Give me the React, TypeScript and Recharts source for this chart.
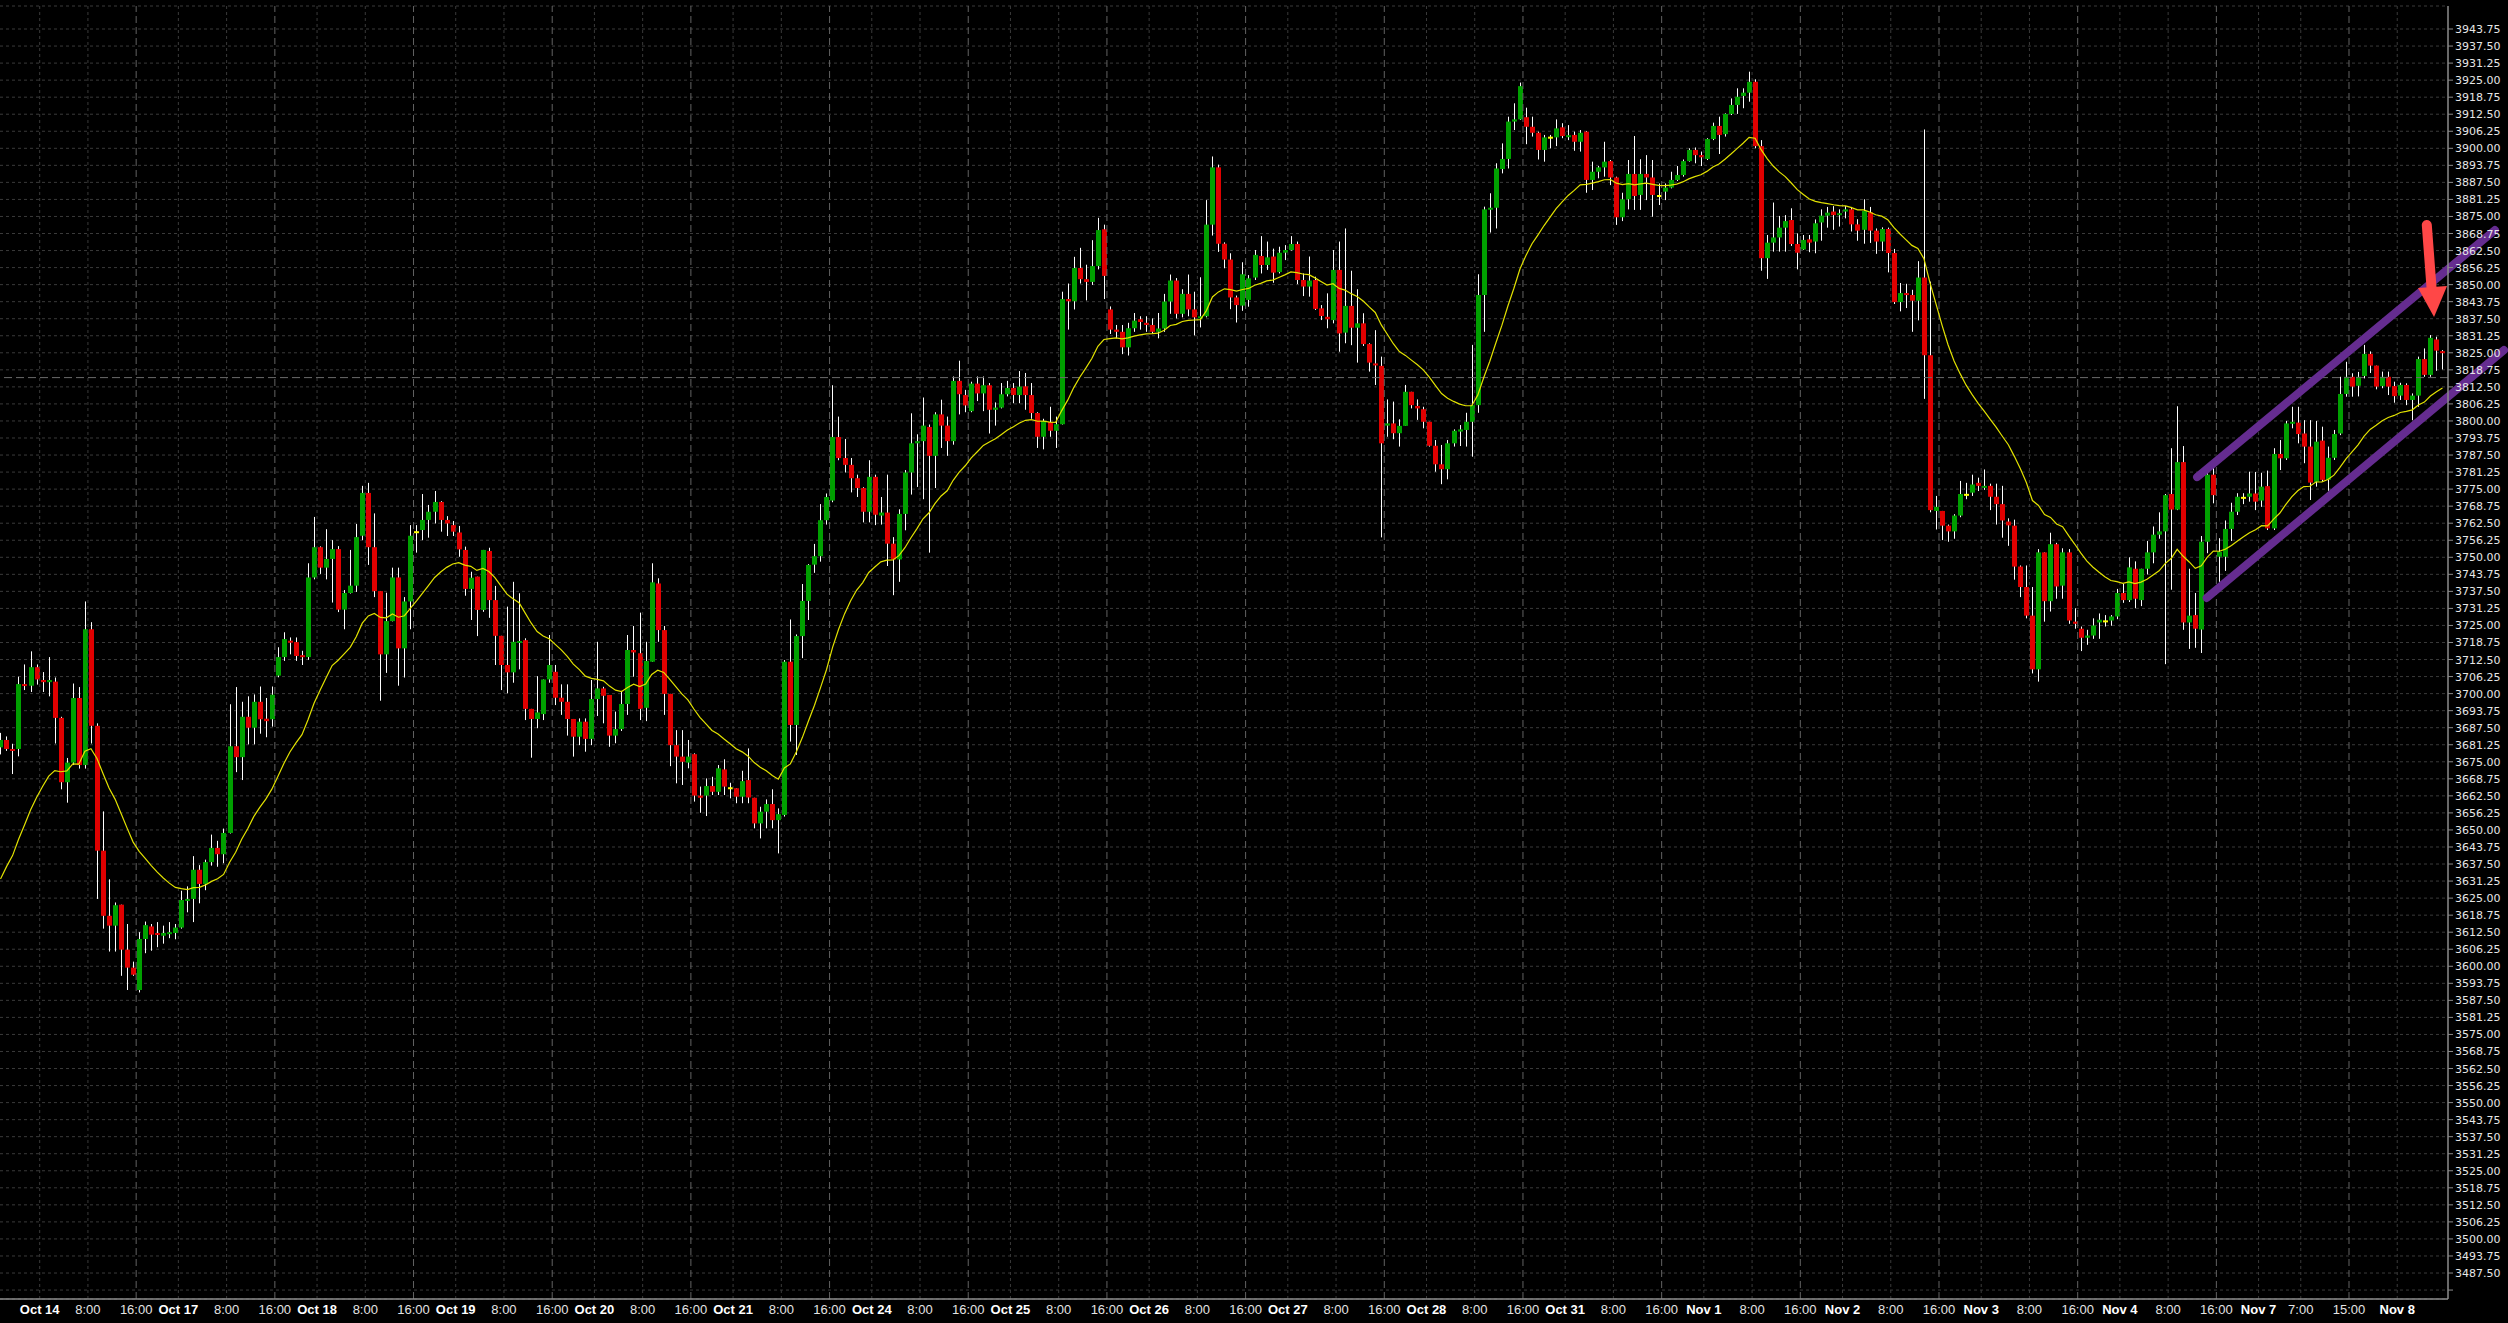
import React from "react";
import {
  ComposedChart, Bar, Line, Scatter, XAxis, YAxis, CartesianGrid, ReferenceLine,
} from "recharts";

// [open, high, low, close], hourly bars grouped by the session label they fall under
type Candle = [number, number, number, number];

const oct13: Candle[] = [
  [3680.3, 3685.6, 3677.7, 3683.0], [3683.0, 3684.3, 3679.0, 3679.7], [3679.7, 3681.6, 3670.5, 3679.0],
  [3679.7, 3706.2, 3677.0, 3703.5], [3703.5, 3710.7, 3701.3, 3702.9], [3702.9, 3715.5, 3700.6, 3709.7],
  [3709.7, 3710.7, 3703.3, 3705.2],
];
const oct14: Candle[] = [
  [3705.0, 3707.9, 3700.6, 3704.2], [3704.2, 3713.4, 3699.0, 3705.0], [3704.4, 3705.9, 3681.7, 3691.1],
  [3691.1, 3691.5, 3664.9, 3667.5], [3667.5, 3676.4, 3660.0, 3674.7], [3674.7, 3703.7, 3673.8, 3698.4],
  [3698.4, 3702.4, 3672.5, 3673.8], [3673.8, 3733.8, 3672.5, 3723.6], [3723.6, 3726.2, 3681.7, 3688.2],
  [3688.2, 3689.1, 3624.7, 3642.4], [3642.4, 3656.8, 3613.8, 3618.5], [3618.5, 3631.9, 3605.4, 3614.9],
  [3614.9, 3623.4, 3605.4, 3622.4], [3622.6, 3622.6, 3596.5, 3606.1], [3606.1, 3615.5, 3591.3, 3599.5],
  [3599.5, 3601.7, 3596.5, 3596.9], [3591.3, 3612.5, 3590.4, 3610.0], [3610.0, 3616.4, 3604.8, 3615.1],
  [3614.6, 3615.5, 3605.7, 3611.6], [3612.2, 3616.2, 3607.0, 3611.6], [3611.2, 3614.9, 3608.3, 3612.2],
  [3611.8, 3616.2, 3610.3, 3612.5], [3612.2, 3615.5, 3609.9, 3614.2],
];
const oct17: Candle[] = [
  [3614.2, 3627.7, 3613.8, 3624.3], [3624.2, 3629.3, 3619.8, 3624.7], [3624.7, 3640.4, 3616.2, 3635.4],
  [3635.4, 3637.1, 3623.1, 3630.2], [3630.2, 3639.1, 3627.9, 3638.2], [3638.2, 3648.3, 3636.9, 3643.4],
  [3643.4, 3646.0, 3636.5, 3641.1], [3641.1, 3650.5, 3637.8, 3648.9], [3648.9, 3696.1, 3648.7, 3680.7],
  [3680.7, 3702.4, 3671.2, 3676.7], [3676.7, 3697.0, 3668.3, 3691.5], [3691.5, 3699.0, 3681.4, 3687.5],
  [3687.5, 3699.7, 3681.4, 3697.0], [3697.0, 3702.6, 3685.3, 3690.6], [3690.8, 3698.4, 3684.0, 3689.9],
  [3690.6, 3702.6, 3687.9, 3699.6], [3706.6, 3717.0, 3706.0, 3713.4], [3713.4, 3722.5, 3712.0, 3720.0],
  [3719.4, 3720.6, 3714.4, 3718.9], [3718.9, 3720.6, 3712.0, 3713.8], [3714.1, 3715.7, 3710.5, 3713.4],
  [3713.4, 3747.8, 3712.4, 3742.6], [3742.6, 3764.8, 3741.9, 3753.7],
];
const oct18: Candle[] = [
  [3753.7, 3754.0, 3743.9, 3746.2], [3746.2, 3760.3, 3741.9, 3749.4], [3749.4, 3756.3, 3733.4, 3753.0],
  [3753.0, 3754.1, 3729.9, 3730.8], [3730.8, 3738.0, 3723.6, 3736.9], [3736.9, 3752.7, 3736.7, 3739.6],
  [3739.6, 3762.2, 3737.3, 3757.4], [3757.9, 3776.2, 3756.3, 3773.6], [3773.6, 3777.3, 3747.2, 3753.7],
  [3753.7, 3766.1, 3735.4, 3737.6], [3737.6, 3737.6, 3697.4, 3714.4], [3714.4, 3737.0, 3707.6, 3726.6],
  [3726.6, 3746.2, 3726.5, 3742.6], [3742.6, 3746.2, 3702.9, 3716.6], [3716.6, 3735.4, 3705.9, 3733.8],
  [3733.8, 3761.8, 3723.6, 3757.9], [3759.2, 3761.8, 3751.7, 3759.2], [3760.0, 3773.2, 3756.3, 3763.7],
  [3763.7, 3769.2, 3757.2, 3766.7], [3766.7, 3774.3, 3762.4, 3770.3], [3770.3, 3770.6, 3759.4, 3763.7],
  [3763.7, 3765.1, 3757.8, 3762.4], [3761.8, 3763.3, 3757.8, 3759.4],
];
const oct19: Candle[] = [
  [3759.1, 3761.5, 3750.2, 3752.9], [3752.7, 3753.9, 3735.9, 3738.4], [3738.4, 3744.7, 3727.0, 3742.5],
  [3742.9, 3742.9, 3721.1, 3730.7], [3730.7, 3752.7, 3730.0, 3752.7], [3752.3, 3753.5, 3727.8, 3734.3],
  [3734.3, 3739.5, 3710.5, 3721.2], [3721.2, 3721.2, 3701.3, 3710.5], [3710.5, 3731.9, 3700.1, 3707.8],
  [3707.8, 3741.0, 3704.0, 3719.0], [3719.0, 3736.8, 3708.9, 3719.3], [3719.6, 3720.3, 3690.3, 3694.4],
  [3694.4, 3694.4, 3676.5, 3690.7], [3690.7, 3706.4, 3687.3, 3693.1], [3692.5, 3705.2, 3690.3, 3705.2],
  [3705.2, 3721.5, 3704.0, 3710.5], [3708.0, 3710.5, 3695.8, 3698.5], [3698.5, 3703.4, 3692.2, 3697.0],
  [3697.0, 3703.4, 3684.6, 3690.7], [3690.7, 3690.7, 3676.9, 3684.2], [3684.2, 3690.9, 3681.1, 3689.7],
  [3689.7, 3690.9, 3678.7, 3683.4], [3683.4, 3705.0, 3681.1, 3698.0],
];
const oct20: Candle[] = [
  [3698.0, 3719.0, 3691.8, 3701.9], [3701.9, 3702.5, 3689.1, 3699.2], [3699.5, 3699.5, 3680.5, 3684.6],
  [3684.6, 3693.4, 3681.8, 3687.0], [3687.0, 3701.0, 3686.3, 3696.2], [3696.2, 3721.5, 3692.2, 3716.0],
  [3716.0, 3724.8, 3706.2, 3715.1], [3714.8, 3729.7, 3690.3, 3694.4], [3694.8, 3719.0, 3689.9, 3712.0],
  [3711.7, 3747.8, 3711.7, 3740.8], [3740.4, 3742.3, 3719.0, 3723.3], [3723.3, 3724.8, 3692.2, 3699.9],
  [3699.9, 3699.9, 3673.4, 3681.1], [3681.1, 3686.6, 3667.1, 3676.9], [3676.9, 3686.6, 3666.5, 3675.0],
  [3674.7, 3683.0, 3672.6, 3676.9], [3677.8, 3678.1, 3660.4, 3662.6], [3662.6, 3665.9, 3656.3, 3661.8],
  [3662.6, 3668.9, 3655.1, 3666.1], [3666.1, 3669.5, 3662.8, 3664.0], [3664.0, 3673.8, 3662.8, 3672.6],
  [3672.2, 3675.9, 3662.8, 3665.9], [3665.3, 3667.3, 3661.6, 3665.3],
];
const oct21: Candle[] = [
  [3665.3, 3665.3, 3659.8, 3662.2], [3662.2, 3671.7, 3659.8, 3667.9], [3668.3, 3679.9, 3659.8, 3661.9],
  [3661.8, 3661.8, 3650.6, 3652.4], [3652.4, 3658.5, 3646.9, 3656.7], [3656.7, 3661.2, 3650.6, 3659.5],
  [3659.5, 3664.9, 3650.6, 3653.6], [3653.6, 3657.9, 3641.4, 3655.8], [3655.5, 3712.3, 3654.9, 3711.7],
  [3711.7, 3727.2, 3682.4, 3688.5], [3688.5, 3721.7, 3677.5, 3721.1], [3721.1, 3740.2, 3713.0, 3734.0],
  [3734.0, 3747.5, 3727.0, 3747.2], [3747.3, 3754.9, 3744.3, 3750.4], [3750.4, 3769.5, 3748.4, 3763.6],
  [3763.6, 3773.4, 3762.0, 3772.1], [3770.8, 3813.1, 3770.2, 3794.1], [3794.1, 3801.6, 3785.6, 3786.4],
  [3786.4, 3793.4, 3781.1, 3783.9], [3783.9, 3786.4, 3773.8, 3779.0], [3779.0, 3780.3, 3772.1, 3775.4],
  [3775.4, 3775.7, 3762.8, 3766.7], [3766.7, 3785.6, 3762.8, 3779.5],
];
const oct24: Candle[] = [
  [3779.5, 3780.3, 3761.8, 3765.6], [3765.3, 3772.1, 3762.0, 3766.4], [3766.4, 3780.3, 3746.8, 3755.0],
  [3755.0, 3757.4, 3736.1, 3749.2], [3749.2, 3767.6, 3741.0, 3765.9], [3765.9, 3782.0, 3759.9, 3781.1],
  [3781.1, 3802.8, 3773.0, 3791.8], [3791.8, 3795.1, 3775.8, 3792.6], [3792.6, 3808.6, 3771.3, 3798.3],
  [3797.8, 3798.7, 3751.7, 3787.2], [3787.2, 3803.2, 3775.4, 3802.4], [3802.4, 3807.8, 3790.1, 3798.3],
  [3798.3, 3801.6, 3787.2, 3792.6], [3792.6, 3816.3, 3791.3, 3814.7], [3814.7, 3822.1, 3802.4, 3809.8],
  [3809.5, 3811.4, 3803.2, 3805.7], [3803.6, 3814.4, 3803.2, 3813.7], [3813.7, 3816.3, 3807.3, 3810.1],
  [3810.1, 3816.3, 3803.6, 3813.1], [3813.1, 3813.9, 3795.4, 3804.1], [3804.1, 3806.8, 3798.3, 3804.9],
  [3804.9, 3813.9, 3804.6, 3809.8], [3809.8, 3814.7, 3809.0, 3812.1],
];
const oct25: Candle[] = [
  [3812.1, 3813.9, 3806.5, 3809.5], [3809.5, 3818.3, 3806.5, 3812.6], [3812.7, 3817.6, 3804.1, 3809.5],
  [3809.5, 3813.9, 3800.8, 3802.9], [3802.9, 3803.2, 3790.1, 3794.2], [3794.2, 3800.8, 3789.6, 3800.0],
  [3799.6, 3805.2, 3794.2, 3796.4], [3796.4, 3801.6, 3790.1, 3798.8], [3798.8, 3847.4, 3798.7, 3844.7],
  [3844.7, 3850.4, 3833.5, 3843.9], [3843.9, 3860.2, 3840.9, 3856.1], [3856.1, 3863.5, 3850.4, 3852.0],
  [3852.0, 3857.3, 3844.2, 3851.0], [3851.0, 3866.3, 3849.9, 3856.8], [3856.8, 3874.5, 3855.6, 3870.0],
  [3870.3, 3872.0, 3844.7, 3853.2], [3840.9, 3842.0, 3831.9, 3833.5], [3833.5, 3835.2, 3830.3, 3832.7],
  [3832.7, 3835.2, 3824.5, 3827.0], [3827.0, 3836.0, 3824.0, 3834.0], [3834.0, 3839.6, 3832.7, 3836.8],
  [3837.3, 3838.4, 3833.5, 3836.3], [3836.0, 3838.4, 3832.7, 3835.2],
];
const oct26: Candle[] = [
  [3835.2, 3837.6, 3831.9, 3832.7], [3832.7, 3839.6, 3830.3, 3833.9], [3833.9, 3846.6, 3832.7, 3843.8],
  [3843.8, 3853.7, 3839.3, 3851.5], [3851.5, 3852.4, 3837.6, 3839.3], [3839.3, 3848.3, 3838.0, 3846.6],
  [3846.6, 3853.7, 3838.4, 3840.9], [3840.9, 3847.4, 3831.4, 3838.0], [3837.6, 3852.7, 3834.3, 3838.4],
  [3838.4, 3881.0, 3838.0, 3872.0], [3872.0, 3897.0, 3868.0, 3893.0], [3893.0, 3894.0, 3862.0, 3865.0],
  [3865.0, 3865.5, 3856.0, 3859.2], [3859.2, 3861.5, 3841.0, 3845.3], [3845.3, 3846.0, 3836.1, 3842.5],
  [3842.3, 3858.2, 3840.4, 3853.8], [3844.4, 3853.5, 3841.9, 3852.3], [3852.6, 3862.7, 3851.7, 3860.9],
  [3860.5, 3867.8, 3854.1, 3857.2], [3857.2, 3865.8, 3855.4, 3860.0], [3860.3, 3863.2, 3850.7, 3854.4],
  [3854.6, 3863.9, 3854.1, 3861.7], [3861.7, 3864.5, 3859.0, 3862.7],
];
const oct27: Candle[] = [
  [3862.7, 3867.8, 3862.5, 3864.9], [3864.9, 3865.8, 3850.2, 3851.7], [3851.7, 3854.1, 3845.8, 3849.3],
  [3849.3, 3860.3, 3845.6, 3851.5], [3851.7, 3852.9, 3840.7, 3841.1], [3841.3, 3842.5, 3837.0, 3838.5],
  [3838.2, 3846.8, 3834.0, 3837.3], [3837.0, 3862.7, 3835.8, 3855.4], [3855.4, 3865.8, 3825.4, 3832.1],
  [3832.4, 3870.6, 3828.5, 3842.2], [3842.2, 3855.1, 3827.8, 3834.2], [3834.2, 3848.3, 3821.4, 3835.8],
  [3835.8, 3839.5, 3827.5, 3828.2], [3828.2, 3828.5, 3818.1, 3821.4], [3821.1, 3833.3, 3813.2, 3820.4],
  [3820.2, 3823.6, 3757.3, 3791.8], [3798.3, 3807.9, 3794.2, 3799.1], [3799.1, 3807.1, 3793.3, 3795.5],
  [3795.5, 3800.6, 3790.6, 3798.2], [3798.2, 3813.2, 3798.2, 3810.7], [3810.7, 3810.7, 3804.6, 3805.8],
  [3805.5, 3807.9, 3800.4, 3804.6], [3804.3, 3805.2, 3797.3, 3799.7],
];
const oct28: Candle[] = [
  [3799.7, 3799.7, 3790.6, 3790.9], [3790.9, 3793.0, 3781.4, 3784.1], [3784.1, 3791.2, 3776.8, 3782.3],
  [3782.3, 3793.0, 3778.6, 3791.8], [3791.8, 3796.9, 3790.6, 3796.4], [3796.1, 3798.5, 3790.8, 3796.9],
  [3796.7, 3803.0, 3790.6, 3799.7], [3799.7, 3827.9, 3786.9, 3805.8], [3805.8, 3853.8, 3803.0, 3846.2],
  [3846.2, 3878.6, 3832.7, 3877.6], [3877.6, 3883.5, 3869.1, 3878.2], [3878.2, 3894.5, 3870.6, 3892.6],
  [3892.4, 3901.8, 3890.8, 3896.1], [3896.1, 3911.6, 3892.6, 3909.8], [3909.8, 3916.5, 3906.7, 3910.6],
  [3910.6, 3924.1, 3910.4, 3922.8], [3911.4, 3914.9, 3901.5, 3907.9], [3907.9, 3911.6, 3904.3, 3905.7],
  [3905.7, 3906.1, 3895.9, 3899.4], [3899.4, 3904.9, 3895.1, 3904.0], [3903.9, 3904.9, 3900.0, 3903.9],
  [3904.0, 3910.6, 3900.8, 3907.3], [3907.7, 3909.2, 3903.7, 3904.5],
];
const oct31: Candle[] = [
  [3904.3, 3908.5, 3903.0, 3904.8], [3904.9, 3906.1, 3899.1, 3902.4], [3902.4, 3906.7, 3898.8, 3905.7],
  [3906.1, 3906.3, 3883.7, 3888.4], [3888.4, 3895.1, 3884.7, 3891.4], [3891.4, 3893.5, 3889.0, 3893.0],
  [3893.0, 3902.4, 3889.6, 3895.1], [3895.3, 3895.7, 3886.5, 3889.3], [3889.3, 3889.6, 3871.9, 3874.7],
  [3874.7, 3883.7, 3873.3, 3881.3], [3881.3, 3895.7, 3877.6, 3890.6], [3890.6, 3904.5, 3877.4, 3882.5],
  [3882.9, 3896.0, 3877.4, 3890.6], [3890.6, 3897.5, 3881.0, 3889.3], [3889.3, 3895.7, 3874.9, 3882.9],
  [3882.5, 3887.1, 3879.2, 3882.5], [3884.1, 3887.1, 3881.0, 3885.6], [3885.6, 3891.4, 3885.3, 3888.4],
  [3888.4, 3893.5, 3888.0, 3890.2], [3890.2, 3895.9, 3889.6, 3895.3], [3895.3, 3900.0, 3895.1, 3899.4],
  [3899.4, 3900.3, 3894.5, 3897.5], [3897.5, 3898.8, 3893.5, 3896.7],
];
const nov1: Candle[] = [
  [3896.1, 3903.7, 3895.7, 3903.4], [3903.4, 3909.4, 3903.0, 3908.2], [3908.2, 3911.6, 3897.9, 3904.9],
  [3905.2, 3912.8, 3904.3, 3912.6], [3912.6, 3918.3, 3912.2, 3915.9], [3915.9, 3922.0, 3912.6, 3918.9],
  [3919.2, 3922.0, 3914.7, 3920.4], [3920.4, 3928.1, 3917.1, 3924.4], [3924.4, 3925.3, 3900.0, 3900.8],
  [3900.8, 3903.0, 3855.1, 3859.7], [3859.7, 3868.2, 3852.1, 3865.4], [3865.4, 3880.1, 3862.1, 3867.3],
  [3867.3, 3875.2, 3862.1, 3870.9], [3870.9, 3875.5, 3862.1, 3873.3], [3873.7, 3878.0, 3864.2, 3864.9],
  [3864.9, 3868.8, 3855.6, 3861.7], [3862.9, 3868.2, 3862.7, 3866.4], [3866.6, 3868.2, 3861.9, 3865.4],
  [3865.8, 3873.9, 3861.5, 3872.5], [3872.8, 3877.6, 3866.1, 3875.3], [3875.3, 3878.5, 3870.9, 3876.4],
  [3876.8, 3878.8, 3870.1, 3875.5], [3875.5, 3877.6, 3871.3, 3876.2],
];
const nov2: Candle[] = [
  [3876.8, 3878.8, 3874.3, 3877.6], [3877.6, 3878.5, 3869.5, 3872.1], [3872.1, 3874.0, 3866.1, 3869.8],
  [3870.1, 3881.3, 3865.0, 3877.0], [3876.5, 3878.5, 3865.3, 3869.8], [3869.8, 3870.6, 3861.3, 3865.8],
  [3865.8, 3871.0, 3862.3, 3870.4], [3870.4, 3870.9, 3854.5, 3861.6], [3861.6, 3863.1, 3842.9, 3843.6],
  [3843.6, 3850.6, 3840.2, 3846.9], [3846.9, 3850.3, 3841.4, 3846.2], [3846.2, 3848.1, 3832.7, 3844.1],
  [3844.1, 3858.6, 3836.9, 3852.6], [3852.6, 3906.9, 3808.1, 3824.1], [3824.1, 3851.1, 3766.5, 3767.3],
  [3767.0, 3772.5, 3760.2, 3768.5], [3767.0, 3767.0, 3756.3, 3761.6], [3761.6, 3762.0, 3755.7, 3759.5],
  [3759.5, 3765.8, 3756.8, 3765.3], [3765.3, 3778.0, 3764.7, 3773.2], [3772.9, 3777.3, 3771.3, 3772.9],
  [3773.7, 3780.3, 3772.5, 3776.7], [3777.3, 3779.2, 3774.3, 3776.2],
];
const nov3: Candle[] = [
  [3775.5, 3782.2, 3774.7, 3776.2], [3776.2, 3777.0, 3767.3, 3772.2], [3772.2, 3777.0, 3762.0, 3769.5],
  [3769.5, 3776.2, 3757.2, 3763.5], [3763.1, 3764.3, 3754.2, 3761.7], [3761.6, 3763.8, 3741.8, 3746.6],
  [3746.6, 3747.0, 3735.4, 3739.1], [3739.1, 3747.0, 3727.6, 3728.6], [3728.6, 3739.1, 3707.4, 3708.9],
  [3708.9, 3753.0, 3704.4, 3751.8], [3751.8, 3751.8, 3726.4, 3733.9], [3733.9, 3759.0, 3730.1, 3754.8],
  [3754.8, 3755.3, 3734.8, 3739.3], [3739.6, 3753.3, 3734.8, 3751.8], [3751.8, 3753.0, 3725.6, 3726.8],
  [3726.4, 3731.3, 3723.8, 3725.6], [3723.8, 3724.6, 3715.6, 3720.5], [3720.5, 3723.4, 3717.9, 3721.3],
  [3721.3, 3727.6, 3720.1, 3725.0], [3726.1, 3729.4, 3720.1, 3727.1], [3726.5, 3728.8, 3724.6, 3726.5],
  [3726.8, 3728.8, 3724.9, 3728.3], [3728.3, 3738.4, 3727.3, 3736.9],
];
const nov4: Candle[] = [
  [3736.9, 3740.3, 3733.3, 3734.3], [3734.3, 3750.0, 3733.6, 3746.3], [3745.8, 3748.5, 3731.3, 3734.8],
  [3734.3, 3745.8, 3732.1, 3745.8], [3745.8, 3756.0, 3743.7, 3751.8], [3751.8, 3761.3, 3747.8, 3758.3],
  [3758.3, 3766.5, 3756.8, 3759.5], [3759.5, 3773.2, 3710.8, 3772.8], [3773.2, 3790.0, 3738.1, 3767.5],
  [3767.5, 3805.4, 3767.3, 3784.9], [3784.9, 3790.8, 3723.4, 3726.1], [3726.1, 3745.8, 3716.4, 3728.6],
  [3728.8, 3736.9, 3716.8, 3723.8], [3723.5, 3757.8, 3714.9, 3755.7], [3755.7, 3781.5, 3751.5, 3780.3],
  [3780.3, 3783.0, 3769.8, 3772.8], [3750.2, 3757.0, 3741.0, 3752.0], [3750.2, 3763.5, 3745.0, 3760.4],
  [3760.4, 3770.0, 3756.0, 3766.7], [3766.7, 3773.5, 3765.5, 3772.2], [3771.8, 3773.5, 3769.5, 3771.8],
  [3772.2, 3781.4, 3770.4, 3773.4], [3773.4, 3781.3, 3767.3, 3770.4],
];
const nov7: Candle[] = [
  [3770.8, 3781.0, 3768.5, 3775.9], [3776.1, 3781.8, 3760.0, 3760.6], [3760.6, 3790.0, 3760.0, 3787.9],
  [3787.9, 3793.0, 3782.0, 3786.3], [3786.3, 3800.0, 3785.7, 3799.1], [3799.1, 3805.2, 3797.3, 3799.7],
  [3799.4, 3805.2, 3791.8, 3795.2], [3795.4, 3800.3, 3784.5, 3790.6], [3790.6, 3800.3, 3771.0, 3777.4],
  [3777.7, 3800.0, 3775.9, 3792.4], [3792.8, 3797.9, 3777.8, 3778.4], [3778.4, 3790.6, 3774.4, 3786.5],
  [3786.5, 3796.7, 3785.7, 3795.2], [3795.4, 3816.2, 3794.8, 3809.9], [3809.9, 3821.7, 3808.9, 3816.2],
  [3816.2, 3817.5, 3808.9, 3812.6], [3812.9, 3818.0, 3809.0, 3816.2], [3816.5, 3827.9, 3815.6, 3824.6],
  [3824.6, 3825.5, 3817.6, 3820.3], [3820.3, 3820.3, 3811.6, 3812.6], [3812.8, 3818.1, 3812.0, 3816.2],
  [3816.2, 3818.1, 3809.5, 3812.6], [3812.8, 3814.4, 3806.7, 3809.1],
];
const nov8: Candle[] = [
  [3809.3, 3814.0, 3807.7, 3813.2], [3813.2, 3813.8, 3805.8, 3807.7], [3807.7, 3810.1, 3800.3, 3809.3],
  [3809.3, 3823.6, 3805.2, 3822.7], [3822.7, 3826.6, 3816.2, 3816.9], [3816.9, 3831.5, 3816.2, 3830.5],
  [3829.9, 3830.9, 3818.4, 3825.8], [3825.6, 3826.0, 3818.9, 3825.0],
];

const sessions = [oct13, oct14, oct17, oct18, oct19, oct20, oct21, oct24, oct25, oct26, oct27, oct28,
  oct31, nov1, nov2, nov3, nov4, nov7, nov8];
const dayLabels = ["", "Oct 14", "Oct 17", "Oct 18", "Oct 19", "Oct 20", "Oct 21", "Oct 24", "Oct 25",
  "Oct 26", "Oct 27", "Oct 28", "Oct 31", "Nov 1", "Nov 2", "Nov 3", "Nov 4", "Nov 7", "Nov 8"];
const hourMarks: [string, number][] = [["8:00", 8], ["16:00", 16]];
const hourMarksNov7: [string, number][] = [["7:00", 7], ["15:00", 15]];

const priceTicks = [
  3481.25, 3487.5, 3493.75, 3500, 3506.25, 3512.5, 3518.75, 3525, 3531.25, 3537.5, 3543.75, 3550,
  3556.25, 3562.5, 3568.75, 3575, 3581.25, 3587.5, 3593.75, 3600, 3606.25, 3612.5, 3618.75, 3625,
  3631.25, 3637.5, 3643.75, 3650, 3656.25, 3662.5, 3668.75, 3675, 3681.25, 3687.5, 3693.75, 3700,
  3706.25, 3712.5, 3718.75, 3725, 3731.25, 3737.5, 3743.75, 3750, 3756.25, 3762.5, 3768.75, 3775,
  3781.25, 3787.5, 3793.75, 3800, 3806.25, 3812.5, 3818.75, 3825, 3831.25, 3837.5, 3843.75, 3850,
  3856.25, 3862.5, 3868.75, 3875, 3881.25, 3887.5, 3893.75, 3900, 3906.25, 3912.5, 3918.75, 3925,
  3931.25, 3937.5, 3943.75,
];
const priceDomain: [number, number] = [3477.97, 3952.19];

// moving average (EMA 20), starting from the level shown at the left edge
const EMA_PERIOD = 20;
const emaStart = 3632;

// hand-drawn annotations (candle index, price)
const channelUpper = [{ x: 364.3, y: 3779.4 }, { x: 413.7, y: 3870.0 }];
const channelLower = [{ x: 365.9, y: 3735.1 }, { x: 415.2, y: 3826.0 }];
const arrowShaft = [{ x: 402.4, y: 3871.9 }, { x: 403.2, y: 3848.5 }];
const arrowTip = [{ i: 403.6, price: 3838.1 }];
const priceLine = 3815.9;

const UP = "#00a000";
const DOWN = "#e00000";
const FLAT = "#ffff00";

const candles = sessions.flat();
const alpha = 2 / (EMA_PERIOD + 1);
let prevEma = emaStart;
const rows = candles.map(([o, h, l, c], i) => {
  const ema = i === 0 ? emaStart : prevEma + alpha * (c - prevEma);
  prevEma = ema;
  return { i, o, h, l, c, range: [l, h], ema };
});

interface TickInfo { pos: number; label: string; kind: "day" | "hour" | "session" }
const timeTicks: TickInfo[] = [];
let startIdx = 0;
sessions.forEach((s, d) => {
  const label = dayLabels[d];
  if (label) {
    timeTicks.push({ pos: startIdx - 0.5, label, kind: "day" });
    const marks = label === "Nov 7" ? hourMarksNov7 : hourMarks;
    marks.forEach(([lab, off]) => {
      if (off < s.length) timeTicks.push({ pos: startIdx + off - 0.5, label: lab, kind: off >= 15 ? "session" : "hour" });
    });
  }
  startIdx += s.length;
});
const tickByPos = new Map(timeTicks.map((t) => [t.pos, t]));

const CandleShape = (props: any) => {
  const { x, y, width, height, payload } = props;
  if (!payload || !Number.isFinite(y) || !Number.isFinite(x)) return null;
  const { o, h, l, c } = payload;
  const top = Math.min(y, y + height);
  const span = Math.abs(height);
  const toY = (p: number) => top + ((h - p) / (h - l)) * span;
  const mid = Math.round(x + width / 2);
  const bTop = toY(Math.max(o, c));
  const bBot = toY(Math.min(o, c));
  const fill = c > o ? UP : c < o ? DOWN : FLAT;
  const bodyH = Math.max(bBot - bTop, 2);
  return (
    <g>
      <line x1={mid + 0.5} x2={mid + 0.5} y1={top} y2={top + span} stroke="#ffffff" strokeWidth={1} />
      <rect x={mid - 2} y={c === o ? bTop - 1 : bTop} width={5} height={bodyH} fill={fill} />
    </g>
  );
};

const ArrowHead = (props: any) => {
  const { cx, cy } = props;
  if (!Number.isFinite(cx)) return null;
  return <polygon points={`${cx},${cy} ${cx - 16},${cy - 29} ${cx + 13},${cy - 31}`} fill="#ff4747" />;
};

const TimeTick = (props: any) => {
  const { x, y, payload } = props;
  const t = tickByPos.get(payload.value);
  if (!t) return null;
  const bold = t.kind === "day";
  return (
    <text x={x} y={y + 15} textAnchor="middle" fill={bold ? "#ffffff" : "#e4e4e4"}
      fontWeight={bold ? 700 : 400} fontSize={13} fontFamily="'Liberation Sans', Arial, sans-serif">
      {t.label}
    </text>
  );
};

const PriceTick = (props: any) => {
  const { x, y, payload } = props;
  if (payload.value < 3487) return null;
  return (
    <text x={x} y={y + 4} textAnchor="start" fill="#e6e6e6" fontSize={11} fontFamily="'DejaVu Sans', Verdana, sans-serif">
      {payload.value.toFixed(2)}
    </text>
  );
};

export default function App() {
  const n = candles.length;
  return (
    <div style={{ position: "absolute", left: 0, top: 0, width: 2508, height: 1323, background: "#000" }}>
      <ComposedChart width={2508} height={1323} data={rows} margin={{ top: 6, right: 0, bottom: 0, left: 0 }}>
        <CartesianGrid vertical={false} stroke="#3a3a3a" strokeDasharray="3 3" />
        {timeTicks.map((t) => (
          <ReferenceLine key={`v${t.pos}`} x={t.pos}
            stroke={t.kind === "session" ? "#626262" : "#3a3a3a"}
            strokeDasharray={t.kind === "session" ? "7 4" : "3 3"} />
        ))}
        <ReferenceLine y={priceLine} stroke="#6a6a6a" strokeDasharray="8 4" />
        <XAxis type="number" dataKey="i" domain={[-0.083, n - 0.083]} allowDataOverflow
          ticks={timeTicks.map((t) => t.pos)} interval={0} tick={<TimeTick />}
          tickLine={false} tickSize={0} tickMargin={0} height={24}
          axisLine={{ stroke: "#8c8c8c", strokeWidth: 1.5 }} />
        <YAxis type="number" orientation="right" domain={priceDomain} allowDataOverflow
          ticks={priceTicks} interval={0} width={60} tick={<PriceTick />}
          tickSize={5} tickMargin={2} tickLine={{ stroke: "#8c8c8c" }}
          axisLine={{ stroke: "#8c8c8c", strokeWidth: 1.5 }} />
        <Bar dataKey="range" barSize={5} shape={<CandleShape />} isAnimationActive={false} />
        <Line dataKey="ema" type="linear" stroke="#e2e200" strokeWidth={1.2} dot={false} isAnimationActive={false} />
        <ReferenceLine segment={channelUpper} ifOverflow="visible" stroke="#652c90" strokeWidth={8} strokeLinecap="round" />
        <ReferenceLine segment={channelLower} ifOverflow="visible" stroke="#652c90" strokeWidth={8} strokeLinecap="round" />
        <ReferenceLine segment={arrowShaft} ifOverflow="visible" stroke="#ff4747" strokeWidth={10} strokeLinecap="round" />
        <Scatter data={arrowTip} dataKey="price" shape={<ArrowHead />} isAnimationActive={false} />
      </ComposedChart>
    </div>
  );
}
